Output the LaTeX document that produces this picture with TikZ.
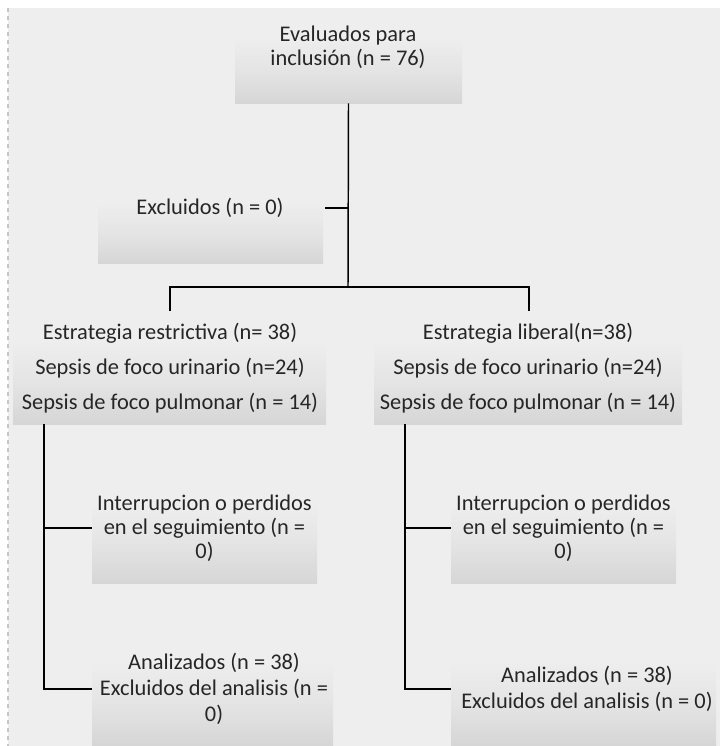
\documentclass[tikz,border=0pt]{standalone}
\usepackage{fontspec}
\setmainfont{Carlito}
\definecolor{pagegray}{HTML}{EEEEEE}
\definecolor{boxgray}{HTML}{D6D6D6}
\tikzset{
  flowbox/.style={rectangle, inner sep=0pt, top color=pagegray, bottom color=boxgray, middle color=pagegray!60!boxgray},
  flowtext/.style={inner sep=0pt, align=center, font=\fontsize{16.8}{18}\selectfont, text=black!85},
  flowline/.style={line width=1.1pt, black}
}
\begin{document}
\begin{tikzpicture}[x=0.75pt,y=0.75pt,yscale=-1,xscale=1]
\useasboundingbox (0,0) rectangle (720,746);
% Background
\fill [pagegray] (8,8) rectangle (720,746);
\draw [gray!45, dashed, line width=1pt] (8,8) -- (8,746);

% Shaded boxes
\node [flowbox, minimum width=227*0.75pt, minimum height=66*0.75pt] (evalbox) at (348.5,70) {};
\node [flowbox, minimum width=225*0.75pt, minimum height=60*0.75pt] (exclbox) at (210.5,233) {};
\node [flowbox, minimum width=313*0.75pt, minimum height=84*0.75pt] (restrbox) at (169.5,382) {};
\node [flowbox, minimum width=308*0.75pt, minimum height=84*0.75pt] (liberbox) at (528,382) {};
\node [flowbox, minimum width=225*0.75pt, minimum height=80*0.75pt] (interrLbox) at (204.5,543) {};
\node [flowbox, minimum width=225*0.75pt, minimum height=80*0.75pt] (interrRbox) at (563.5,543) {};
\node [flowbox, minimum width=241*0.75pt, minimum height=84*0.75pt] (analLbox) at (212.5,703) {};
\node [flowbox, minimum width=265*0.75pt, minimum height=84*0.75pt] (analRbox) at (583.5,703) {};

% Text Node
\node [flowtext] (eval) at (348,47) {Evaluados para\\inclusión (n = 76)};
% Text Node
\node [flowtext] (excl) at (210,208) {Excluidos (n = 0)};
% Text Node
\node [flowtext] (restr) at (170,368) {Estrategia restrictiva (n= 38)\\[8pt]Sepsis de foco urinario (n=24)\\[8pt]Sepsis de foco pulmonar (n = 14)};
% Text Node
\node [flowtext] (liber) at (528,368) {Estrategia liberal(n=38)\\[8pt]Sepsis de foco urinario (n=24)\\[8pt]Sepsis de foco pulmonar (n = 14)};
% Text Node
\node [flowtext] (interrL) at (204.5,528) {Interrupcion o perdidos\\en el seguimiento (n =\\0)};
% Text Node
\node [flowtext] (interrR) at (563.5,528) {Interrupcion o perdidos\\en el seguimiento (n =\\0)};
% Text Node
\node [flowtext, font=\fontsize{16.8}{19.5}\selectfont] (analL) at (214,689) {Analizados (n = 38)\\Excluidos del analisis (n =\\0)};
% Text Node
\node [flowtext, font=\fontsize{16.8}{19.5}\selectfont] (analR) at (587,689) {Analizados (n = 38)\\Excluidos del analisis (n = 0)};

% Junctions
\coordinate (split) at (348,287);
\coordinate (restrTop) at (170,311);
\coordinate (liberTop) at (529,311);
\coordinate (trunkL) at (44,424);
\coordinate (trunkR) at (405,424);

%Straight Lines
\draw [flowline] (evalbox.south) -- (split);
\draw [flowline] (excl.east -| exclbox.east) ++(2,0) -- (excl.east -| split);
\draw [flowline] (restrTop) -- (restrTop |- split) -- (liberTop |- split) -- (liberTop);
%Straight Lines
\draw [flowline] (trunkL) -- (trunkL |- analL) -- (analLbox.west |- analL);
\draw [flowline] (trunkL |- interrL) -- (interrLbox.west |- interrL);
%Straight Lines
\draw [flowline] (trunkR) -- (trunkR |- analR) -- (analRbox.west |- analR);
\draw [flowline] (trunkR |- interrR) -- (interrRbox.west |- interrR);
\end{tikzpicture}
\end{document}
